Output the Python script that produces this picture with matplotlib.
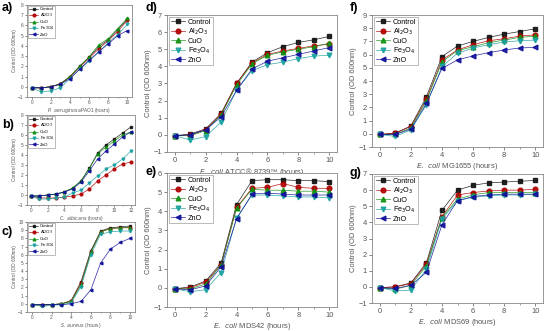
import numpy as np
import matplotlib
matplotlib.use('Agg')
import matplotlib.pyplot as plt

plt.rcParams['font.family'] = ['Liberation Sans', 'DejaVu Sans']

series = ['Control', 'Al$_2$O$_3$', 'CuO', 'Fe$_3$O$_4$', 'ZnO']
colors = ['#111111', '#b00000', '#109010', '#1aa0a0', '#10109a']
markers = ['s', 'o', '^', 'v', '<']

hours_10 = list(range(11))
hours_12 = list(range(13))

# a) P. aeruginosa PAO1
a_vals = [
    [-0.1, -0.1, 0.0, 0.3, 1.0, 2.0, 2.9, 3.9, 4.6, 5.6, 6.6],
    [-0.1, -0.1, 0.0, 0.25, 0.95, 1.9, 2.8, 3.7, 4.5, 5.4, 6.5],
    [-0.1, -0.1, 0.0, 0.3, 1.0, 2.0, 2.9, 4.1, 4.7, 5.7, 6.7],
    [-0.1, -0.5, -0.4, -0.1, 0.8, 1.7, 2.5, 3.4, 4.3, 5.1, 6.1],
    [-0.1, -0.1, 0.0, 0.25, 0.8, 1.7, 2.6, 3.4, 4.2, 5.0, 5.5],
]
# b) C. albicans
b_vals = [
    [-0.1, -0.1, 0.0, 0.1, 0.3, 0.7, 1.4, 2.7, 4.2, 5.0, 5.6, 6.2, 6.8],
    [-0.1, -0.3, -0.3, -0.3, -0.2, -0.1, 0.1, 0.6, 1.4, 2.0, 2.6, 3.1, 3.3],
    [-0.1, -0.1, 0.0, 0.1, 0.3, 0.7, 1.4, 2.6, 4.1, 4.8, 5.4, 6.0, 6.3],
    [-0.1, -0.4, -0.4, -0.3, -0.2, 0.2, 0.5, 1.2, 1.9, 2.6, 3.0, 3.6, 4.4],
    [-0.1, -0.1, 0.0, 0.1, 0.3, 0.6, 1.3, 2.4, 3.6, 4.4, 5.1, 5.8, 6.3],
]
# c) S. aureus
c_vals = [
    [-0.1, -0.1, -0.1, 0.0, 0.4, 2.7, 6.5, 8.9, 9.3, 9.4, 9.5],
    [-0.1, -0.2, -0.1, 0.0, 0.3, 2.5, 6.3, 8.8, 9.2, 9.3, 9.3],
    [-0.1, -0.2, -0.1, 0.0, 0.3, 2.3, 6.3, 8.8, 9.2, 9.3, 9.3],
    [-0.1, -0.3, -0.2, -0.1, 0.1, 2.1, 6.0, 8.5, 8.8, 8.9, 8.9],
    [-0.1, -0.1, -0.1, -0.1, 0.0, 0.3, 1.7, 5.0, 6.7, 7.5, 8.0],
]
# d) E. coli ATCC 8739
d_vals = [
    [-0.05, 0.05, 0.35, 1.25, 3.0, 4.25, 4.8, 5.15, 5.4, 5.55, 5.75],
    [-0.05, 0.0, 0.3, 1.2, 3.0, 4.2, 4.7, 4.9, 5.05, 5.2, 5.3],
    [-0.05, -0.05, 0.25, 1.15, 2.9, 4.15, 4.65, 4.85, 5.0, 5.15, 5.35],
    [-0.05, -0.3, -0.1, 0.75, 2.6, 3.75, 4.1, 4.25, 4.45, 4.6, 4.65],
    [-0.05, 0.0, 0.3, 1.05, 2.6, 3.85, 4.3, 4.5, 4.7, 4.9, 5.1],
]
# e) E. coli MDS42
e_vals = [
    [-0.05, 0.05, 0.35, 1.3, 4.35, 5.6, 5.65, 5.65, 5.6, 5.6, 5.55],
    [-0.05, 0.0, 0.3, 1.2, 4.2, 5.2, 5.25, 5.45, 5.25, 5.2, 5.2],
    [-0.05, -0.05, 0.2, 1.2, 4.15, 5.15, 5.1, 5.1, 5.05, 5.05, 5.0],
    [-0.05, -0.2, -0.1, 0.8, 3.65, 4.85, 4.85, 4.8, 4.75, 4.75, 4.7],
    [-0.05, -0.1, 0.1, 1.1, 3.6, 4.9, 4.95, 4.9, 4.85, 4.85, 4.85],
]
# f) E. coli MG1655
f_vals = [
    [-0.05, 0.05, 0.6, 2.8, 5.85, 6.65, 7.0, 7.3, 7.55, 7.75, 7.95],
    [-0.05, 0.05, 0.55, 2.6, 5.6, 6.35, 6.75, 7.05, 7.2, 7.4, 7.5],
    [-0.05, -0.05, 0.45, 2.5, 5.45, 6.3, 6.6, 6.9, 7.1, 7.3, 7.4],
    [-0.05, -0.2, 0.3, 2.2, 5.1, 6.1, 6.5, 6.75, 6.95, 7.05, 7.1],
    [-0.05, -0.05, 0.35, 2.3, 4.95, 5.6, 5.9, 6.15, 6.35, 6.5, 6.55],
]
# g) E. coli MDS69
g_vals = [
    [-0.05, 0.0, 0.25, 1.5, 4.75, 6.0, 6.3, 6.45, 6.5, 6.55, 6.6],
    [-0.05, 0.0, 0.2, 1.4, 4.35, 5.7, 5.85, 5.95, 6.0, 6.0, 6.05],
    [-0.05, -0.15, 0.1, 1.3, 4.3, 5.45, 5.7, 5.85, 5.85, 5.85, 5.85],
    [-0.05, -0.25, -0.2, 1.1, 4.2, 5.35, 5.55, 5.65, 5.7, 5.7, 5.75],
    [-0.05, -0.1, 0.1, 0.9, 3.85, 5.35, 5.6, 5.7, 5.75, 5.75, 5.75],
]

W, H = 550, 331


def box(l, t, r, b):
    return [l / W, 1 - b / H, (r - l) / W, (b - t) / H]


# tag, axes box, x, values, ylim, x label, small panel?, tag position (px)
panels = [
    ('a)', box(27, 5, 132, 97), hours_10, a_vals, (-1, 8),
     r'$\it{P.\ aeruginosa}$PAO1 (hours)', True, (2, 8)),
    ('b)', box(27, 115, 135, 205), hours_12, b_vals, (-1, 8),
     r'$\it{C.\ albicans}$ (hours)', True, (2, 125)),
    ('c)', box(27, 222, 135, 312), hours_10, c_vals, (-1, 10),
     r'$\it{S.\ aureus}$ (hours)', True, (2, 232)),
    ('d)', box(167, 15, 337, 152), hours_10, d_vals, (-1, 7),
     r'$\it{E.\ coli}$ ATCC® 8739™ (hours)', False, (145, 8)),
    ('e)', box(167, 173, 337, 307), hours_10, e_vals, (-1, 6),
     r'$\it{E.\ coli}$ MDS42 (hours)', False, (145, 172)),
    ('f)', box(372, 15, 543, 147), hours_10, f_vals, (-1, 9),
     r'$\it{E.\ coli}$ MG1655 (hours)', False, (350, 8)),
    ('g)', box(372, 174, 543, 303), hours_10, g_vals, (-1, 7),
     r'$\it{E.\ coli}$ MDS69 (hours)', False, (350, 173)),
]

fig = plt.figure(figsize=(5.5, 3.31), dpi=100)

for tag, rect, x, vals, ylim, xlabel, small, tpos in panels:
    ax = fig.add_axes(rect)
    fs = 3.4 if small else 5.4
    lfs = 3.2 if small else 5.2
    ms = 2.0 if small else 3.4
    for name, col, mk, y in zip(series, colors, markers, vals):
        ax.plot(x, y, color=col, marker=mk, markersize=ms, lw=0.5,
                alpha=0.9, label=name)
    ax.set_xlim(x[0] - 0.5, x[-1] + 0.5)
    ax.set_ylim(*ylim)
    ax.set_xticks(np.arange(0, x[-1] + 1, 2))
    ax.set_yticks(np.arange(ylim[0], ylim[1] + 1, 1))
    ax.set_xticks(np.arange(0, x[-1] + 1, 1), minor=True)
    ax.tick_params(labelsize=fs, colors='#555555', length=1.5 if small else 2.5,
                   width=0.5, pad=1)
    ax.tick_params(which='minor', length=1 if small else 1.5, width=0.4, colors='#555555')
    for s in ax.spines.values():
        s.set_color('#888888')
        s.set_linewidth(0.6)
    ax.set_ylabel('Control (OD 600nm)', fontsize=fs, color='#555555', labelpad=1)
    ax.set_xlabel(xlabel, fontsize=fs, color='#555555', labelpad=0.5 if small else 1.5)
    leg = ax.legend(loc='upper left', fontsize=lfs, frameon=True, fancybox=False,
                    borderaxespad=0.25, handlelength=2.0, handletextpad=0.4,
                    labelspacing=0.12, borderpad=0.25)
    leg.get_frame().set_edgecolor('#888888')
    leg.get_frame().set_linewidth(0.5)
    fig.text(tpos[0] / W, 1 - tpos[1] / H, tag, ha='left', va='center',
             fontsize=9, fontweight='bold')

fig.savefig('out.png', dpi=100)
